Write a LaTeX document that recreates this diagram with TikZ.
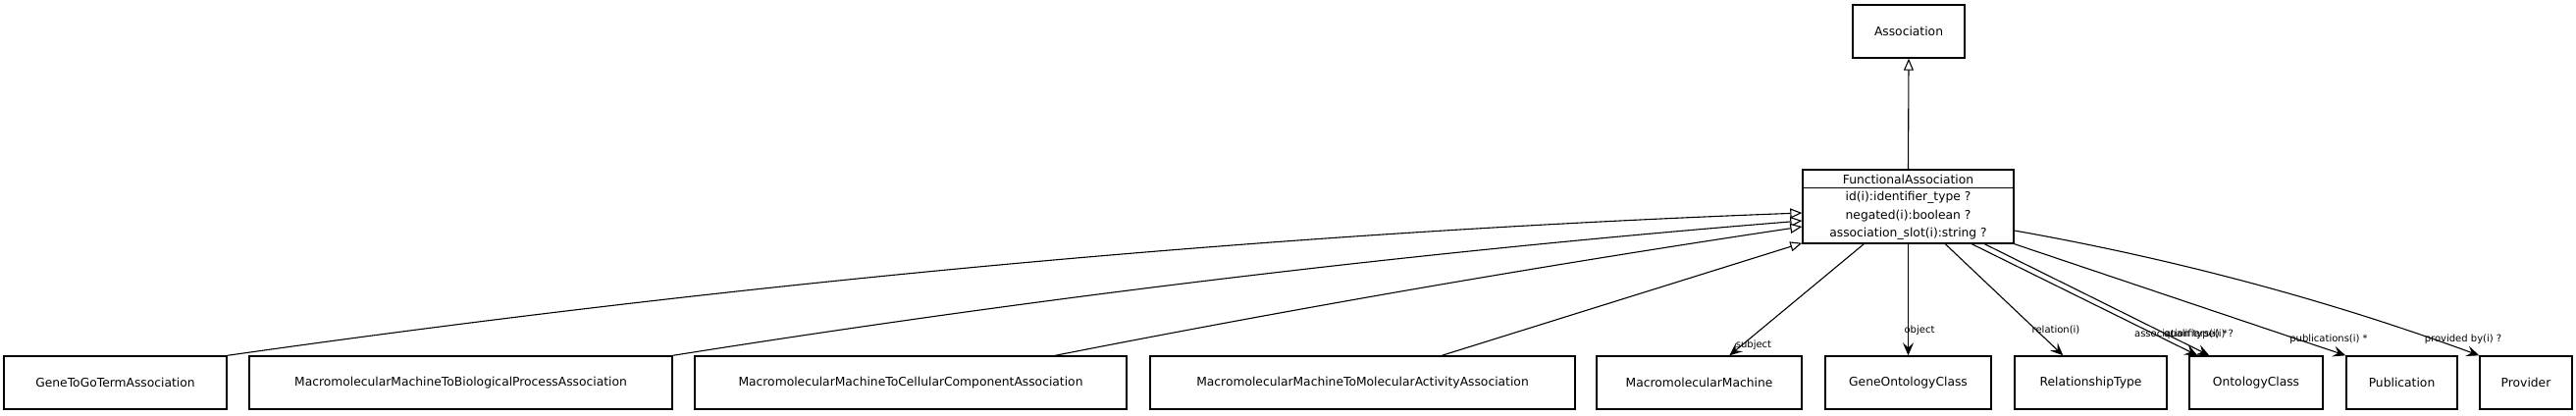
\documentclass[tikz,border=0pt]{standalone}
\usepackage{fontspec}
\setmainfont{DejaVu Sans}
\usetikzlibrary{arrows.meta}
\begin{document}
\begin{tikzpicture}[x=1pt,y=-1pt,
  cls/.style={draw, line width=1.4pt, minimum height=54pt, inner sep=0pt, font=\fontsize{12.3}{15}\selectfont},
  txt/.style={inner sep=0pt, font=\fontsize{12.3}{15}\selectfont},
  lbl/.style={inner sep=0pt, font=\fontsize{10}{12}\selectfont},
  gen/.style={draw, line width=1.1pt, -{Triangle[open,length=12pt,width=10pt,fill=white]}},
  refa/.style={draw, line width=1.1pt, -{Stealth[length=13pt,width=11pt,inset=5pt]}}]
\useasboundingbox (0,0) rectangle (2625,423);

\node[cls, minimum width=114pt] (assoc) at (1945,32) {Association};
\node[draw, line width=1.4pt, minimum width=215pt, minimum height=75pt, inner sep=0pt] (fa) at (1944.5,210.5) {};
\draw[line width=1.4pt] ([yshift=-19pt]fa.north west) -- ([yshift=-19pt]fa.north east);
\node[txt] (fah) at (1944.5,182.5) {FunctionalAssociation};
\node[txt] (fa1) at (1944.5,201.5) {id(i):identifier\_type ?};
\node[txt] (fa2) at (1944.5,220) {negated(i):boolean ?};
\node[txt] (fa3) at (1944.5,238.5) {association\_slot(i):string ?};

\node[cls, minimum width=227pt] (g2go) at (117.5,390) {GeneToGoTermAssociation};
\node[cls, minimum width=431pt] (mmbp) at (469.5,390) {MacromolecularMachineToBiologicalProcessAssociation};
\node[cls, minimum width=440pt] (mmcc) at (928,390) {MacromolecularMachineToCellularComponentAssociation};
\node[cls, minimum width=433pt] (mmma) at (1388.5,390) {MacromolecularMachineToMolecularActivityAssociation};
\node[cls, minimum width=209pt] (mm) at (1731.5,390) {MacromolecularMachine};
\node[cls, minimum width=169pt] (goc) at (1944.5,390) {GeneOntologyClass};
\node[cls, minimum width=155pt] (rt) at (2130.5,390) {RelationshipType};
\node[cls, minimum width=136pt] (oc) at (2299,390) {OntologyClass};
\node[cls, minimum width=113pt] (pub) at (2447.5,390) {Publication};
\node[cls, minimum width=94pt] (prov) at (2574,390) {Provider};

% generalisations
\draw[gen] (fa.north) -- (assoc.south);
\draw[gen] (g2go.north east) .. controls +(535,-76) and +(-535,20) .. ([yshift=-6.5pt]fa.west);
\draw[gen] (mmbp.north east) .. controls +(384,-61) and +(-384,31) .. ([yshift=-14.5pt]fa.west);
\draw[gen] ([xshift=368pt]mmcc.north west) .. controls +(254,-50) and +(-254,38) .. ([yshift=-20.5pt]fa.west);
\draw[gen] ([xshift=298pt]mmma.north west) -- ([yshift=1pt]fa.south west);

% associations
\draw[refa] ([xshift=63pt]fa.south west) -- ([xshift=136pt]mm.north west);
\draw[refa] (fa.south) -- (goc.north);
\draw[refa] ([xshift=146pt]fa.south west) -- ([xshift=50pt]rt.north west);
\draw[refa] ([xshift=173pt]fa.south west) -- ([xshift=9pt]oc.north west);
\draw[refa] ([xshift=186pt]fa.south west) -- ([xshift=21pt]oc.north west);
\draw[refa] (fa.south east) -- (pub.north west);
\draw[refa] ([yshift=-24.5pt]fa.east) .. controls +(158,28) and +(-158,-58) .. (prov.north west);

\node[lbl] (lsub) at (1787,352) {subject};
\node[lbl] (lobj) at (1956,337) {object};
\node[lbl] (lrel) at (2095,336) {relation(i)};
\node[lbl] (lat) at (2225.5,341) {association type(i) ?};
\node[lbl] (lq) at (2237.5,341) {qualifiers(i) *};
\node[lbl] (lpub) at (2373,346) {publications(i) *};
\node[lbl] (lprov) at (2510,346) {provided by(i) ?};
\end{tikzpicture}
\end{document}
